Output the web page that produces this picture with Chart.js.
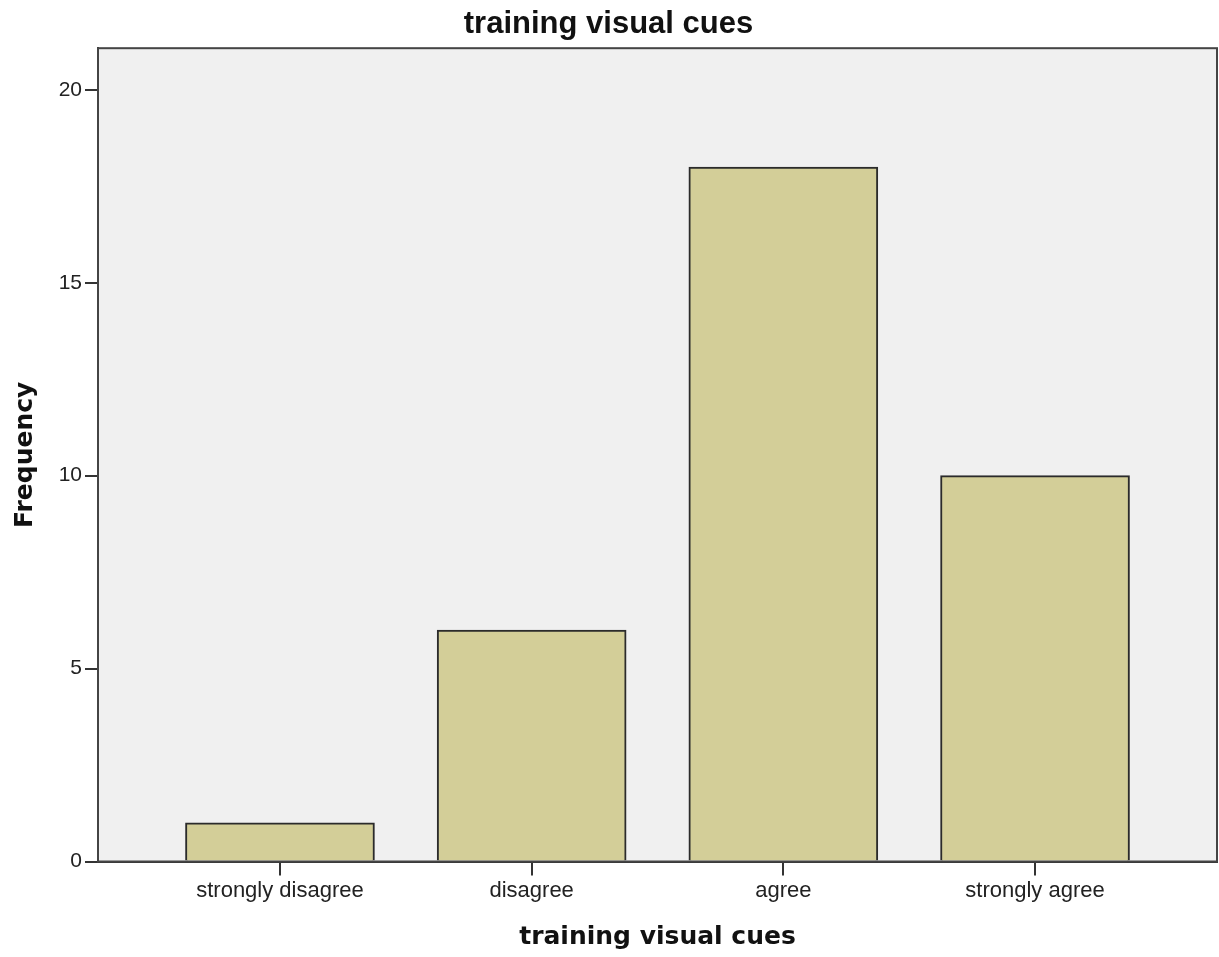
<!DOCTYPE html>
<html>
<head>
<meta charset="utf-8">
<script src="https://cdn.jsdelivr.net/npm/chart.js@4/dist/chart.umd.min.js"></script>
<style>
  html, body { margin: 0; padding: 0; background: #fff; }
  #wrap { width: 1219px; height: 957px; }
</style>
</head>
<body>
<div id="wrap"><canvas id="myChart" width="1219" height="957"></canvas></div>
<script>
// categorias e frequencias
const categorias = ['strongly disagree', 'disagree', 'agree', 'strongly agree'];
const frequencias = [1, 6, 18, 10];
const yTicks = [0, 5, 10, 15, 20];

const pontos = categorias.map((c, i) => ({ x: i, y: frequencias[i] }));

// fundo cinza e moldura da area do grafico
const moldura = {
  id: 'moldura',
  beforeDraw(chart) {
    const { ctx, chartArea: a } = chart;
    ctx.save();
    ctx.fillStyle = '#f0f0f0';
    ctx.fillRect(a.left, a.top, a.right - a.left, a.bottom - a.top);
    ctx.restore();
  },
  afterDraw(chart) {
    const { ctx, chartArea: a } = chart;
    ctx.save();
    ctx.strokeStyle = '#444';
    ctx.lineWidth = 2;
    ctx.strokeRect(a.left, a.top, a.right - a.left, a.bottom - a.top);
    ctx.restore();
  }
};

const config = {
  type: 'bar',
  data: {
    datasets: [{
      data: pontos,
      backgroundColor: '#d3ce98',
      borderColor: '#2b2b2b',
      borderWidth: 2,
      barThickness: 189
    }]
  },
  options: {
    responsive: false,
    animation: false,
    layout: { padding: { left: 0, right: 2, top: 0, bottom: 0 } },
    plugins: {
      legend: { display: false },
      tooltip: { enabled: false },
      title: {
        display: true,
        text: 'training visual cues',
        color: '#111',
        font: { family: '"Liberation Sans", Arial, sans-serif', size: 31, weight: 'bold', lineHeight: 1.2 },
        padding: { top: 6, bottom: 5 }
      }
    },
    scales: {
      x: {
        type: 'linear',
        offset: false,
        min: -0.723,
        max: 3.723,
        afterFit(scale) { scale.height = 95.5; },
        afterBuildTicks(scale) { scale.ticks = categorias.map((c, i) => ({ value: i })); },
        ticks: {
          callback: (v) => categorias[v],
          color: '#222',
          font: { family: '"Liberation Sans", Arial, sans-serif', size: 22 },
          padding: 2,
          maxRotation: 0,
          autoSkip: false
        },
        grid: { offset: false, drawOnChartArea: false, drawTicks: true, tickLength: 14, color: '#333', lineWidth: 2 },
        border: { display: true, color: '#333', width: 2 },
        title: {
          display: true,
          text: 'training visual cues',
          color: '#111',
          font: { family: '"DejaVu Sans", Verdana, sans-serif', size: 25, weight: 'bold', lineHeight: 1.2 },
          padding: { top: 0, bottom: 5 }
        }
      },
      y: {
        min: 0,
        max: 21.08,
        afterFit(scale) { scale.width = 98; },
        afterBuildTicks(scale) { scale.ticks = yTicks.map(v => ({ value: v })); },
        ticks: {
          color: '#222',
          font: { family: '"Liberation Sans", Arial, sans-serif', size: 21 },
          padding: 3
        },
        grid: { drawOnChartArea: false, drawTicks: true, tickLength: 13, color: '#333', lineWidth: 2 },
        border: { display: true, color: '#333', width: 2 },
        title: {
          display: true,
          text: 'Frequency',
          color: '#111',
          font: { family: '"DejaVu Sans", Verdana, sans-serif', size: 25, weight: 'bold', lineHeight: 1.2 },
          padding: { top: 10, bottom: 0 }
        }
      }
    }
  },
  plugins: [moldura]
};

const myChart = new Chart(document.getElementById('myChart'), config);
</script>
</body>
</html>
